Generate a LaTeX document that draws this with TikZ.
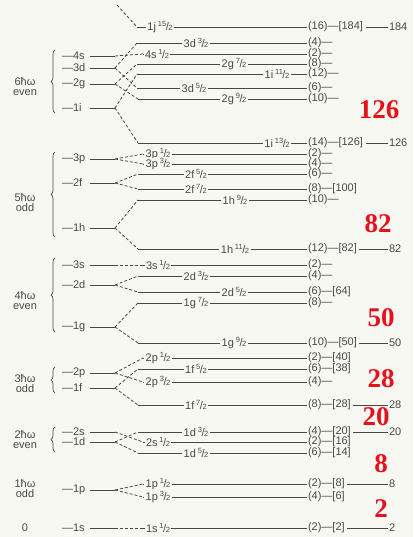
\documentclass[tikz,border=0pt]{standalone}
\usepackage{fontspec}
\setmainfont{Liberation Sans}
\newfontfamily\redfont{Liberation Serif}
\usetikzlibrary{decorations.pathreplacing}
\definecolor{bg}{HTML}{F8F8F3}
\definecolor{ink}{HTML}{474747}
\definecolor{magic}{HTML}{E8101A}
\newcommand\fr[2]{\raisebox{0.55ex}{\fontsize{7.5}{7.5}\selectfont #1}\kern-0.04em/\kern-0.04em{\fontsize{7.5}{7.5}\selectfont #2}}
\tikzset{
 lvl/.style={draw=ink, line width=0.8pt},
 conn/.style={draw=ink, line width=0.8pt, dash pattern=on 3pt off 2pt},
 txt/.style={text=ink, font=\fontsize{11}{11}\selectfont, inner sep=0.8pt},
 tag/.style={txt, fill=bg, inner xsep=1.5pt, inner ysep=0.5pt},
 osc/.style={text=ink, align=center, font=\fontsize{11}{10}\selectfont, inner sep=0pt},
 magicnum/.style={text=magic, font=\redfont\bfseries\fontsize{27}{27}\selectfont, inner sep=0pt},
 shellbrace/.style={draw=ink, line width=0.7pt, decorate, decoration={brace, amplitude=4pt}},
}
% left (oscillator) level: name, y, label
\newcommand\leftlev[3]{%
  \node[txt,anchor=west] (#1n) at (61,#2) {—#3};
  \coordinate (#1e) at (90,#2);
  \coordinate (#1s) at (115,#2);
  \draw[lvl] (#1e) -- (#1s);}
% split level: name, y, xstart, label x, label, right text
\newcommand\rightlev[6]{%
  \coordinate (#1a) at (#3,#2);
  \coordinate (#1b) at (307,#2);
  \draw[lvl] (#1a) -- (#1b);
  \node[tag] (#1t) at (#4,#2) {#5};
  \node[txt,anchor=west] (#1r) at (307,#2) {#6};}
% closed shell: name, y, number
\newcommand\magiclev[3]{%
  \coordinate (#1m) at (388,#2);
  \draw[lvl] ([xshift=1.5pt]#1r.east) -- (#1m);
  \node[txt,anchor=west] (#1z) at (#1m) {#3};}
\begin{document}
\begin{tikzpicture}[x=1pt,y=-1pt]
\fill[bg] (0,0) rectangle (413,537);
\useasboundingbox (0,0) rectangle (413,537);

% ---------- left oscillator levels
\leftlev{L4s}{56}{4s}
\leftlev{L3d}{68}{3d}
\leftlev{L2g}{84}{2g}
\leftlev{L1i}{108}{1i}
\leftlev{L3p}{159}{3p}
\leftlev{L2f}{183}{2f}
\leftlev{L1h}{228}{1h}
\leftlev{L3s}{265}{3s}
\leftlev{L2d}{285}{2d}
\leftlev{L1g}{327}{1g}
\leftlev{L2p}{373}{2p}
\leftlev{L1f}{388}{1f}
\leftlev{L2s}{432}{2s}
\leftlev{L1d}{442}{1d}
\leftlev{L1p}{490}{1p}
\leftlev{L1s}{528}{1s}

% ---------- split levels
\rightlev{R1j}{27}{137}{160}{1j\,\fr{15}{2}}{(16)—[184]}
\rightlev{R3dc}{43}{137}{196}{3d\,\fr{3}{2}}{(4)—}
\rightlev{R4sa}{54}{143}{157}{4s\,\fr{1}{2}}{(2)—}
\rightlev{R2gg}{64}{137}{234}{2g\,\fr{7}{2}}{(8)—}
\rightlev{R1ik}{74}{137}{277}{1i\,\fr{11}{2}}{(12)—}
\rightlev{R3de}{88}{137}{194}{3d\,\fr{5}{2}}{(6)—}
\rightlev{R2gi}{99}{138}{234}{2g\,\fr{9}{2}}{(10)—}
\rightlev{R1im}{143}{138}{277}{1i\,\fr{13}{2}}{(14)—[126]}
\rightlev{R3pa}{154}{143}{158}{3p\,\fr{1}{2}}{(2)—}
\rightlev{R3pc}{164}{143}{158}{3p\,\fr{3}{2}}{(4)—}
\rightlev{R2fe}{174}{138}{196}{2f\,\fr{5}{2}}{(6)—}
\rightlev{R2fg}{189}{138}{196}{2f\,\fr{7}{2}}{(8)—[100]}
\rightlev{R1hi}{200}{138}{235}{1h\,\fr{9}{2}}{(10)—}
\rightlev{R1hk}{249}{138}{235}{1h\,\fr{11}{2}}{(12)—[82]}
\rightlev{R3sa}{265}{143}{158}{3s\,\fr{1}{2}}{(2)—}
\rightlev{R2dc}{276}{138}{196}{2d\,\fr{3}{2}}{(4)—}
\rightlev{R2de}{292}{138}{234}{2d\,\fr{5}{2}}{(6)—[64]}
\rightlev{R1gg}{303}{138}{196}{1g\,\fr{7}{2}}{(8)—}
\rightlev{R1gi}{343}{138}{234}{1g\,\fr{9}{2}}{(10)—[50]}
\rightlev{R2pa}{358}{143}{158}{2p\,\fr{1}{2}}{(2)—[40]}
\rightlev{R1fe}{369}{138}{196}{1f\,\fr{5}{2}}{(6)—[38]}
\rightlev{R2pc}{382}{143}{158}{2p\,\fr{3}{2}}{(4)—}
\rightlev{R1fg}{405}{138}{196}{1f\,\fr{7}{2}}{(8)—[28]}
\rightlev{R1dc}{432}{138}{196}{1d\,\fr{3}{2}}{(4)—[20]}
\rightlev{R2sa}{442}{143}{158}{2s\,\fr{1}{2}}{(2)—[16]}
\rightlev{R1de}{453}{138}{196}{1d\,\fr{5}{2}}{(6)—[14]}
\rightlev{R1pa}{484}{143}{158}{1p\,\fr{1}{2}}{(2)—[8]}
\rightlev{R1pc}{497}{143}{158}{1p\,\fr{3}{2}}{(4)—[6]}
\rightlev{R1sa}{528}{143}{158}{1s\,\fr{1}{2}}{(2)—[2]}

\magiclev{R1j}{27}{184}
\magiclev{R1im}{143}{126}
\magiclev{R1hk}{249}{82}
\magiclev{R1gi}{343}{50}
\magiclev{R1fg}{405}{28}
\magiclev{R1dc}{432}{20}
\magiclev{R1pa}{484}{8}
\magiclev{R1sa}{528}{2}

% ---------- spin-orbit splitting connectors
\coordinate (top1j) at (117,5);
\draw[conn] (top1j) -- (R1ja);
\draw[conn] (L4ss) -- (R4saa);
\draw[conn] (L3ds) -- (R3dca);
\draw[conn] (L3ds) -- (R3dea);
\draw[conn] (L2gs) -- (R2gga);
\draw[conn] (L2gs) -- (R2gia);
\draw[conn] (L1is) -- (R1ika);
\draw[conn] (L1is) -- (R1ima);
\draw[conn] (L3ps) -- (R3paa);
\draw[conn] (L3ps) -- (R3pca);
\draw[conn] (L2fs) -- (R2fea);
\draw[conn] (L2fs) -- (R2fga);
\draw[conn] (L1hs) -- (R1hia);
\draw[conn] (L1hs) -- (R1hka);
\draw[conn] (L3ss) -- (R3saa);
\draw[conn] (L2ds) -- (R2dca);
\draw[conn] (L2ds) -- (R2dea);
\draw[conn] (L1gs) -- (R1gga);
\draw[conn] (L1gs) -- (R1gia);
\draw[conn] (L2ps) -- (R2paa);
\draw[conn] (L2ps) -- (R2pca);
\draw[conn] (L1fs) -- (R1fea);
\draw[conn] (L1fs) -- (R1fga);
\draw[conn] (L2ss) -- (R2saa);
\draw[conn] (L1ds) -- (R1dca);
\draw[conn] (L1ds) -- (R1dea);
\draw[conn] (L1ps) -- (R1paa);
\draw[conn] (L1ps) -- (R1pca);
\draw[conn] (L1ss) -- (R1saa);

% ---------- oscillator shells
\node[osc] (o6) at (25,87) {6ħω\\even};
\node[osc] (o5) at (25,203) {5ħω\\odd};
\node[osc] (o4) at (25,301) {4ħω\\even};
\node[osc] (o3) at (25,384) {3ħω\\odd};
\node[osc] (o2) at (25,440) {2ħω\\even};
\node[osc] (o1) at (25,489) {1ħω\\odd};
\node[osc] (o0) at (25,528) {0};

\coordinate (b6t) at (55,50);  \coordinate (b6b) at (55,113);
\coordinate (b5t) at (55,152); \coordinate (b5b) at (55,237);
\coordinate (b4t) at (55,258); \coordinate (b4b) at (55,332);
\coordinate (b3t) at (55,367); \coordinate (b3b) at (55,393);
\coordinate (b2t) at (55,427); \coordinate (b2b) at (55,452);
\draw[shellbrace] (b6b) -- (b6t);
\draw[shellbrace] (b5b) -- (b5t);
\draw[shellbrace] (b4b) -- (b4t);
\draw[shellbrace] (b3b) -- (b3t);
\draw[shellbrace] (b2b) -- (b2t);

% ---------- magic numbers
\node[magicnum] (m126) at (379,110) {126};
\node[magicnum] (m82) at (378,224) {82};
\node[magicnum] (m50) at (381,318) {50};
\node[magicnum] (m28) at (381,379) {28};
\node[magicnum] (m20) at (376,417) {20};
\node[magicnum] (m8) at (381,464) {8};
\node[magicnum] (m2) at (381,509) {2};
\end{tikzpicture}
\end{document}
